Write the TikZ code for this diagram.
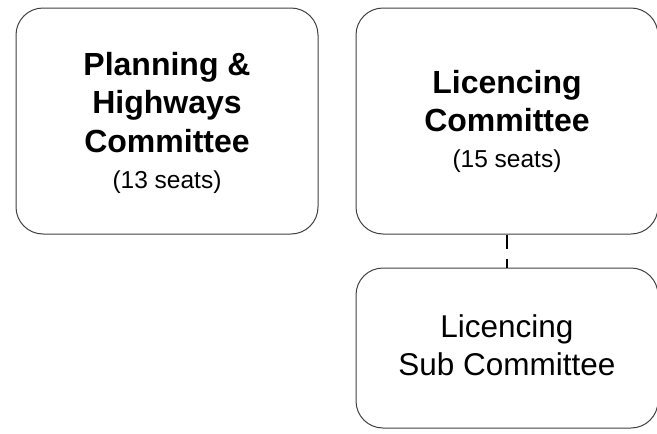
\documentclass[tikz,border=0pt]{standalone}
\usepackage{fontspec}
\setmainfont{Liberation Sans}
\begin{document}
\begin{tikzpicture}[x=1pt,y=-1pt,
  box/.style={draw=black!75, line width=1pt, rounded corners=27pt, rectangle, inner sep=0pt},
  boldtxt/.style={anchor=base, inner sep=0pt, font=\fontsize{32}{36}\bfseries\selectfont},
  regtxt/.style={anchor=base, inner sep=0pt, font=\fontsize{24.5}{28}\selectfont},
  bigtxt/.style={anchor=base, inner sep=0pt, font=\fontsize{31.5}{36}\selectfont},
  link/.style={draw=black, line width=1.6pt, dash pattern=on 14pt off 10pt}]
\useasboundingbox (0,0) rectangle (657,434);
\node[box, minimum width=302pt, minimum height=226pt] (b1) at (167,121) {};
\node[box, minimum width=302pt, minimum height=226pt] (b2) at (507,121) {};
\node[box, minimum width=302pt, minimum height=160pt] (b3) at (507,348) {};
\node[boldtxt] (t1) at (167,75) {Planning \&};
\node[boldtxt] (t2) at (167,113) {Highways};
\node[boldtxt] (t3) at (167,152) {Committee};
\node[regtxt] (t4) at (167,188) {(13 seats)};
\node[boldtxt] (r1) at (507,93) {Licencing};
\node[boldtxt] (r2) at (507,131) {Committee};
\node[regtxt] (r3) at (507,167) {(15 seats)};
\node[bigtxt] (s1) at (507,337) {Licencing};
\node[bigtxt] (s2) at (507,375) {Sub Committee};
\draw[link] (b2.south) -- (b3.north);
\end{tikzpicture}
\end{document}
